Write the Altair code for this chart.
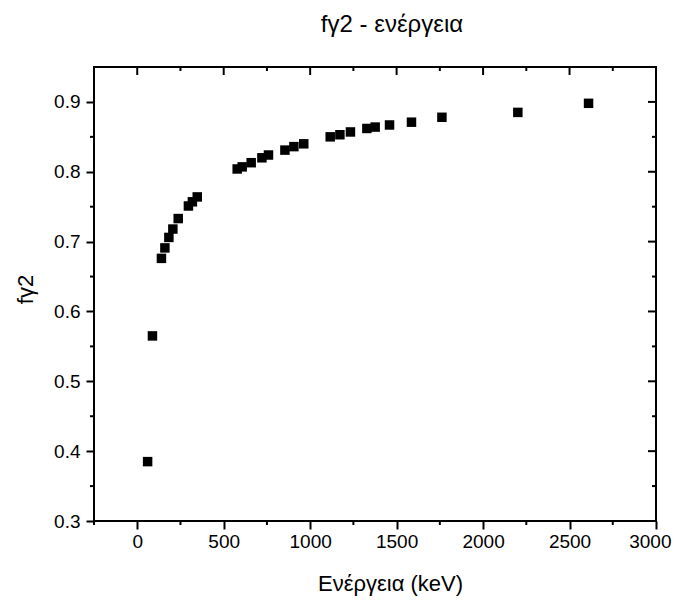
import altair as alt
import pandas as pd

# Data
energy = [60, 88, 140, 160, 183, 206, 237, 296, 319, 347, 578, 607, 659, 721, 759,
          854, 906, 963, 1116, 1172, 1233, 1328, 1376, 1459, 1586, 1762, 2201, 2610]
fy2 = [0.385, 0.565, 0.676, 0.691, 0.706, 0.718, 0.733, 0.751, 0.757, 0.764, 0.804,
       0.807, 0.813, 0.820, 0.824, 0.831, 0.836, 0.840, 0.850, 0.853, 0.857, 0.862,
       0.864, 0.867, 0.871, 0.878, 0.885, 0.898]
x_major = [0, 500, 1000, 1500, 2000, 2500, 3000]
x_minor = [-250, 250, 750, 1250, 1750, 2250, 2750]
y_major = [0.3, 0.4, 0.5, 0.6, 0.7, 0.8, 0.9]
y_minor = [0.35, 0.45, 0.55, 0.65, 0.75, 0.85]

W, H = 562, 454
FONT = "Liberation Sans"

pts = pd.DataFrame({"E": energy, "f": fy2})
xmaj = pd.DataFrame({"E": x_major})
xmin = pd.DataFrame({"E": x_minor})
ymaj = pd.DataFrame({"f": y_major})
ymin = pd.DataFrame({"f": y_minor})

xscale = alt.Scale(domain=[-250, 3000], nice=False, zero=False)
yscale = alt.Scale(domain=[0.3, 0.95], nice=False, zero=False)

xaxis = alt.Axis(values=x_major, title="Ενέργεια (keV)", format="d", grid=False,
                 domain=False, tickSize=8, tickWidth=2, tickColor="black",
                 labelFont=FONT, labelFontSize=19, labelColor="black",
                 labelPadding=3, labelFlush=True, labelFlushOffset=15,
                 labelOverlap=False,
                 titleFont=FONT, titleFontSize=22, titleFontWeight="normal",
                 titleColor="black", titleX=296, titleY=62,
                 titleAlign="center", titleBaseline="middle")
yaxis = alt.Axis(values=y_major, title="fγ2", format=".1f", grid=False,
                 domain=False, tickSize=8, tickWidth=2, tickColor="black",
                 labelFont=FONT, labelFontSize=19, labelColor="black",
                 labelPadding=6, labelFlush=False, labelOverlap=False,
                 titleFont=FONT, titleFontSize=22, titleFontWeight="normal",
                 titleColor="black", titleX=-69, titleY=222, titleAngle=270,
                 titleAlign="center", titleBaseline="middle")

X = alt.X("E:Q", scale=xscale, axis=xaxis)
Y = alt.Y("f:Q", scale=yscale, axis=yaxis)

points = alt.Chart(pts).mark_square(size=90, color="black", opacity=1).encode(x=X, y=Y)

rule = dict(color="black", strokeWidth=2)
bottom_minor = alt.Chart(xmin).mark_rule(**rule).encode(
    x=X, y=alt.value(H), y2=alt.value(H + 4))
top_major = alt.Chart(xmaj).mark_rule(**rule).encode(
    x=X, y=alt.value(0), y2=alt.value(8))
top_minor = alt.Chart(xmin).mark_rule(**rule).encode(
    x=X, y=alt.value(0), y2=alt.value(4))
left_minor = alt.Chart(ymin).mark_rule(**rule).encode(
    y=Y, x=alt.value(0), x2=alt.value(-4))
right_major = alt.Chart(ymaj).mark_rule(**rule).encode(
    y=Y, x=alt.value(W), x2=alt.value(W - 8))
right_minor = alt.Chart(ymin).mark_rule(**rule).encode(
    y=Y, x=alt.value(W), x2=alt.value(W - 4))

chart = alt.layer(
    bottom_minor, top_major, top_minor, left_minor, right_major, right_minor, points
).properties(
    width=W, height=H,
    autosize=alt.AutoSizeParams(type="none"),
    padding={"left": 86, "top": 59, "right": 16, "bottom": 75},
    title=alt.TitleParams("fγ2 - ενέργεια", font=FONT, fontSize=24,
                          fontWeight="normal", color="black", anchor="middle",
                          dx=17, offset=29, frame="group"),
).configure(font=FONT, background="white").configure_view(stroke="black", strokeWidth=2)

chart.save("out.html", embed_options={"renderer": "svg", "actions": False})
